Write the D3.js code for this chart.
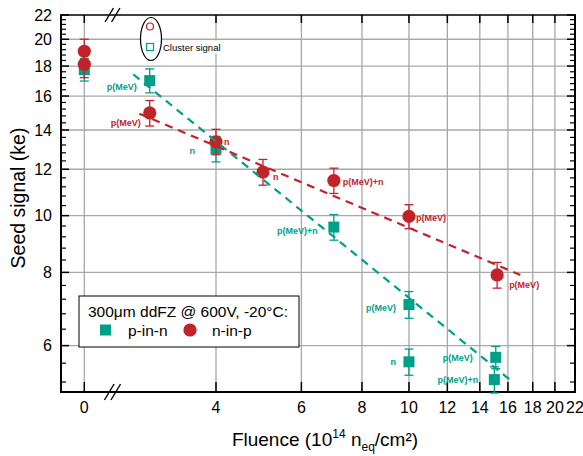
<!DOCTYPE html>
<html><head><meta charset="utf-8">
<script src="https://cdn.jsdelivr.net/npm/d3@7"></script>
<style>body{margin:0;background:#fff}svg{display:block;font-family:"Liberation Sans",Arial,sans-serif}</style>
</head><body>
<svg id="c" width="583" height="456"></svg>
<script>
// ---- data ----
const xTickValues = [0, 4, 6, 8, 10, 12, 14, 16, 18, 20, 22];
const yTickValues = [6, 8, 10, 12, 14, 16, 18, 20, 22];

const pinnFluence = [0, 2.92, 4, 7, 10, 10, 15.1, 15.0];
const pinnSignal  = [17.75, 17.0, 13.0, 9.56, 7.05, 5.63, 5.73, 5.25];
const pinnError   = [0.78, 0.8, 0.65, 0.48, 0.37, 0.29, 0.25, 0.27];
const pinnLabel   = ["", "p(MeV)", "n", "p(MeV)+n", "p(MeV)", "n", "p(MeV)", "p(MeV)+n"];

const ninpFluence = [0, 0, 2.92, 4, 5, 7, 10, 15.2];
const ninpSignal  = [19.08, 18.13, 14.97, 13.37, 11.87, 11.48, 9.97, 7.92];
const ninpError   = [0.92, 0.93, 0.75, 0.67, 0.6, 0.57, 0.47, 0.4];
const ninpLabel   = ["", "", "p(MeV)", "n", "n", "p(MeV)+n", "p(MeV)", "p(MeV)"];

const pinnFitX = [2.70, 16.23];
const pinnFitY = [17.43, 5.23];
const ninpFitX = [2.78, 16.97];
const ninpFitY = [14.93, 7.92];

// ---- label placement (style, not data) ----
const pinnLabelOffset = [[0,0],[-13,6],[-21,1.5],[-16,4],[-13,3],[-13,0.5],[-23,1],[-16,0]];
const ninpLabelOffset = [[0,0],[0,0],[-9,10],[8,0],[10,5],[9,1],[7,1],[12,10]];

const TEAL = "#00a088", RED = "#c1232b", GRID = "#a8a8a8";
const L = 61, R = 575, T = 15, B = 392;

const svg = d3.select("#c");
const y = d3.scaleLog().domain([5, 22]).range([B, T]);
const xLog = d3.scaleLog().domain([4, 22]).range([216, R]);
const xZero = d3.scaleLinear().domain([-1, 1]).range([L, 107.6]);
const x = f => f === 0 ? xZero(0) : xLog(f);

// grid
const g = svg.append("g");
g.selectAll(".hg").data(yTickValues.filter(v => v > 5 && v < 22)).join("line")
  .attr("x1", L).attr("x2", R).attr("y1", d => y(d)).attr("y2", d => y(d))
  .attr("stroke", GRID).attr("stroke-width", 1.3);
g.selectAll(".vg").data(xTickValues.filter(v => v < 22)).join("line")
  .attr("x1", d => x(d)).attr("x2", d => x(d)).attr("y1", T).attr("y2", B)
  .attr("stroke", GRID).attr("stroke-width", 1.3);

// minor y ticks
const minorY = d3.range(5.2, 21.9, 0.4).filter(v => Math.abs(v/2 - Math.round(v/2)) > 0.01);
const ax = svg.append("g").attr("stroke", "#000");
ax.selectAll(".ml").data(minorY).join("line").attr("x1", L).attr("x2", L + 5)
  .attr("y1", d => y(d)).attr("y2", d => y(d)).attr("stroke-width", 1.2);
ax.selectAll(".mr").data(minorY).join("line").attr("x1", R).attr("x2", R - 5)
  .attr("y1", d => y(d)).attr("y2", d => y(d)).attr("stroke-width", 1.2);
ax.selectAll(".Ml").data(yTickValues).join("line").attr("x1", L).attr("x2", L + 8)
  .attr("y1", d => y(d)).attr("y2", d => y(d)).attr("stroke-width", 1.5);
ax.selectAll(".Mr").data(yTickValues).join("line").attr("x1", R).attr("x2", R - 8)
  .attr("y1", d => y(d)).attr("y2", d => y(d)).attr("stroke-width", 1.5);
ax.selectAll(".Mb").data(xTickValues).join("line").attr("x1", d => x(d)).attr("x2", d => x(d))
  .attr("y1", B).attr("y2", B - 10).attr("stroke-width", 1.5);
ax.selectAll(".Mt").data(xTickValues).join("line").attr("x1", d => x(d)).attr("x2", d => x(d))
  .attr("y1", T).attr("y2", T + 8).attr("stroke-width", 1.5);
// frame
ax.append("line").attr("x1", L).attr("x2", L).attr("y1", T).attr("y2", B + 1).attr("stroke-width", 2);
ax.append("line").attr("x1", R).attr("x2", R).attr("y1", T).attr("y2", B + 1).attr("stroke-width", 2);
ax.append("line").attr("x1", L - 1).attr("x2", R + 1).attr("y1", B).attr("y2", B).attr("stroke-width", 2);
ax.append("line").attr("x1", L - 1).attr("x2", R + 1).attr("y1", T).attr("y2", T).attr("stroke-width", 1.6);

// axis break marks
const bx = xZero(1.2);
[[T, 7], [B, 8]].forEach(([yy, h]) => {
  [-3, 3.5].forEach(o => {
    svg.append("line").attr("x1", bx + o - h * 0.6).attr("y1", yy + h)
      .attr("x2", bx + o + h * 0.6).attr("y2", yy - h)
      .attr("stroke", "#000").attr("stroke-width", 1.4);
  });
});

// tick labels
svg.selectAll(".yl").data(yTickValues).join("text")
  .attr("x", 52).attr("y", d => y(d)).attr("dy", "0.36em").attr("text-anchor", "end")
  .attr("font-size", 16).text(d => d);
svg.selectAll(".xl").data(xTickValues).join("text")
  .attr("x", d => x(d)).attr("y", 413).attr("text-anchor", "middle")
  .attr("font-size", 16).text(d => d);

// axis titles
svg.append("text").attr("transform", "translate(25,198) rotate(-90)").attr("text-anchor", "middle")
  .attr("font-size", 19.5).text("Seed signal (ke)");
const xt = svg.append("text").attr("x", 325).attr("y", 446).attr("text-anchor", "middle").attr("font-size", 19);
xt.append("tspan").text("Fluence (10");
xt.append("tspan").attr("font-size", 12).attr("dy", -8).text("14");
xt.append("tspan").attr("dy", 8).text(" n");
xt.append("tspan").attr("font-size", 12).attr("dy", 5).text("eq");
xt.append("tspan").attr("dy", -5).text("/cm²)");

// series
function drawSeries(fl, val, err, color, shape) {
  const grp = svg.append("g");
  fl.forEach((f, i) => {
    const cx = x(f), lo = y(val[i] - err[i]), hi = y(val[i] + err[i]);
    grp.append("line").attr("x1", cx).attr("x2", cx).attr("y1", lo).attr("y2", hi)
      .attr("stroke", color).attr("stroke-width", 1.3);
    [lo, hi].forEach(yy => grp.append("line").attr("x1", cx - 4.5).attr("x2", cx + 4.5)
      .attr("y1", yy).attr("y2", yy).attr("stroke", color).attr("stroke-width", 1.3));
  });
  fl.forEach((f, i) => {
    const cx = x(f), cy = y(val[i]);
    if (shape === "square")
      grp.append("rect").attr("x", cx - 5.5).attr("y", cy - 5.5).attr("width", 11).attr("height", 11).attr("fill", color);
    else
      grp.append("circle").attr("cx", cx).attr("cy", cy).attr("r", 6.6).attr("fill", color);
  });
}
drawSeries(pinnFluence, pinnSignal, pinnError, TEAL, "square");
drawSeries(ninpFluence, ninpSignal, ninpError, RED, "circle");

// fits
function drawFit(fx, fy, color) {
  svg.append("path").attr("d", d3.line().x(d => xLog(d[0])).y(d => y(d[1]))(fx.map((v, i) => [v, fy[i]])))
    .attr("stroke", color).attr("stroke-width", 2.2).attr("fill", "none").attr("stroke-dasharray", "8,6");
}
drawFit(pinnFitX, pinnFitY, TEAL);
drawFit(ninpFitX, ninpFitY, RED);

// point labels
function drawLabels(fl, val, lab, off, color) {
  fl.forEach((f, i) => {
    if (!lab[i]) return;
    const [dx, dy] = off[i];
    svg.append("text").attr("x", x(f) + dx).attr("y", y(val[i]) + dy).attr("dy", "0.35em")
      .attr("text-anchor", dx < 0 ? "end" : "start").attr("font-size", 9).attr("font-weight", "bold")
      .attr("fill", color).text(lab[i]);
  });
}
drawLabels(pinnFluence, pinnSignal, pinnLabel, pinnLabelOffset, TEAL);
drawLabels(ninpFluence, ninpSignal, ninpLabel, ninpLabelOffset, RED);

// legend box
const lg = svg.append("g");
lg.append("rect").attr("x", 79).attr("y", 296).attr("width", 220).attr("height", 51)
  .attr("fill", "#fff").attr("stroke", "#000").attr("stroke-width", 1);
lg.append("text").attr("x", 88).attr("y", 316.5).attr("font-size", 15.5).text("300μm ddFZ @ 600V, -20°C:");
lg.append("rect").attr("x", 100).attr("y", 324.5).attr("width", 11).attr("height", 11).attr("fill", TEAL);
lg.append("text").attr("x", 128).attr("y", 335.5).attr("font-size", 15.5).text("p-in-n");
lg.append("circle").attr("cx", 190).attr("cy", 330).attr("r", 6.6).attr("fill", RED);
lg.append("text").attr("x", 212).attr("y", 335.5).attr("font-size", 15.5).text("n-in-p");

// cluster signal inset
const cl = svg.append("g");
cl.append("rect").attr("x", 161).attr("y", 40.5).attr("width", 60).attr("height", 13).attr("fill", "#fff");
cl.append("ellipse").attr("cx", 151).attr("cy", 39).attr("rx", 10.5).attr("ry", 21.5)
  .attr("fill", "#fff").attr("stroke", "#000").attr("stroke-width", 1.2);
cl.append("circle").attr("cx", 150).attr("cy", 26.5).attr("r", 3.5).attr("fill", "none").attr("stroke", RED).attr("stroke-width", 1.2);
cl.append("rect").attr("x", 146.5).attr("y", 43.5).attr("width", 7).attr("height", 7).attr("fill", "none").attr("stroke", TEAL).attr("stroke-width", 1.2);
cl.append("text").attr("x", 163).attr("y", 50.5).attr("font-size", 9.5).text("Cluster signal");
</script>
</body></html>
